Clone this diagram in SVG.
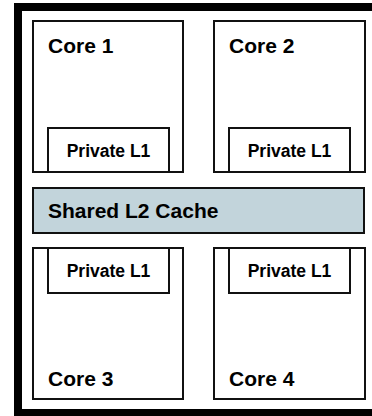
<svg xmlns="http://www.w3.org/2000/svg" width="372" height="416" viewBox="0 0 372 416">
<style>
.box{fill:#fff;stroke:#111;stroke-width:2}
.l2{fill:#c2d4db;stroke:#111;stroke-width:2}
.core{font-family:"Liberation Sans",Arial,sans-serif;font-weight:bold;font-size:21px;fill:#000}
.l1{font-family:"Liberation Sans",Arial,sans-serif;font-weight:bold;font-size:17.5px;fill:#000}
.sh{font-family:"Liberation Sans",Arial,sans-serif;font-weight:bold;font-size:21px;fill:#000}
</style>
<rect x="0" y="0" width="372" height="416" fill="#fff"/>
<rect id="frame" x="18" y="7" width="362" height="406" fill="none" stroke="#000" stroke-width="8"/>
<g id="core1">
<rect class="box" x="33" y="21" width="150" height="151"/>
<text class="core" x="48" y="53">Core 1</text>
</g>
<g id="l1a">
<rect class="box" x="48" y="128" width="121" height="44"/>
<text class="l1" x="108.5" y="157" text-anchor="middle">Private L1</text>
</g>
<g id="core2">
<rect class="box" x="214" y="21" width="151" height="151"/>
<text class="core" x="229" y="53">Core 2</text>
</g>
<g id="l1b">
<rect class="box" x="229" y="128" width="121" height="44"/>
<text class="l1" x="289.5" y="157" text-anchor="middle">Private L1</text>
</g>
<g id="l2">
<rect class="l2" x="33" y="188" width="331" height="45"/>
<text class="sh" x="48" y="218">Shared L2 Cache</text>
</g>
<g id="core3">
<rect class="box" x="33" y="248" width="150" height="151"/>
<text class="core" x="48" y="386">Core 3</text>
</g>
<g id="l1c">
<rect class="box" x="48" y="248" width="121" height="45"/>
<text class="l1" x="108.5" y="277" text-anchor="middle">Private L1</text>
</g>
<g id="core4">
<rect class="box" x="214" y="248" width="151" height="151"/>
<text class="core" x="229" y="386">Core 4</text>
</g>
<g id="l1d">
<rect class="box" x="229" y="248" width="121" height="45"/>
<text class="l1" x="289.5" y="277" text-anchor="middle">Private L1</text>
</g>
<g id="connectors"></g>
</svg>
